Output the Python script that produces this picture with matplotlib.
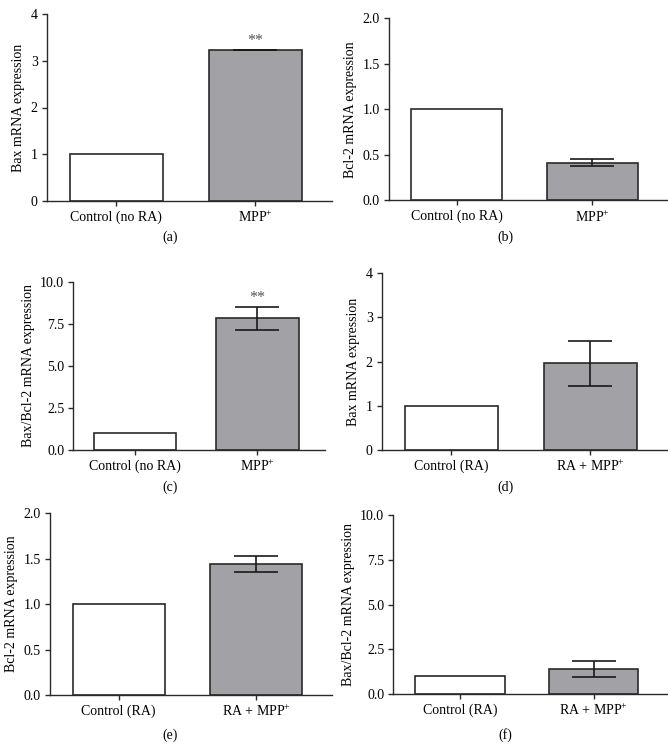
import matplotlib
matplotlib.use("Agg")
import matplotlib.pyplot as plt

plt.rcParams['font.family'] = ['Liberation Serif', 'DejaVu Serif']
plt.rcParams['mathtext.fontset'] = 'custom'
plt.rcParams['mathtext.rm'] = 'Liberation Serif'
plt.rcParams['mathtext.it'] = 'Liberation Serif:italic'

# ---- data ----
cats_noRA = ["Control (no RA)", "MPP$^{+}$"]
cats_RA = ["Control (RA)", "RA + MPP$^{+}$"]

bax_noRA = [1.0, 3.23]
bax_noRA_err = [0.0, 0.01]

bcl2_noRA = [1.0, 0.415]
bcl2_noRA_err = [0.0, 0.035]

ratio_noRA = [1.0, 7.82]
ratio_noRA_err = [0.0, 0.69]

bax_RA = [1.0, 1.96]
bax_RA_err = [0.0, 0.51]

bcl2_RA = [1.0, 1.44]
bcl2_RA_err = [0.0, 0.085]

ratio_RA = [1.0, 1.39]
ratio_RA_err = [0.0, 0.44]

panels = [
    dict(cats=cats_noRA, vals=bax_noRA, err=bax_noRA_err, ylabel="Bax mRNA expression",
         ylim=4, yticks=[0, 1, 2, 3, 4], fmt="{:.0f}", stars="**", label="(a)",
         rect=[46.7, 14, 331.7, 201], lab=(170, 237)),
    dict(cats=cats_noRA, vals=bcl2_noRA, err=bcl2_noRA_err, ylabel="Bcl-2 mRNA expression",
         ylim=2.0, yticks=[0, 0.5, 1.0, 1.5, 2.0], fmt="{:.1f}", stars=None, label="(b)",
         rect=[389, 18.3, 667, 200.3], lab=(505, 237)),
    dict(cats=cats_noRA, vals=ratio_noRA, err=ratio_noRA_err, ylabel="Bax/Bcl-2 mRNA expression",
         ylim=10.0, yticks=[0, 2.5, 5.0, 7.5, 10.0], fmt="{:.1f}", stars="**", label="(c)",
         rect=[73.3, 281.7, 325, 450], lab=(170, 487)),
    dict(cats=cats_RA, vals=bax_RA, err=bax_RA_err, ylabel="Bax mRNA expression",
         ylim=4, yticks=[0, 1, 2, 3, 4], fmt="{:.0f}", stars=None, label="(d)",
         rect=[381.7, 273.3, 667, 450], lab=(505, 487)),
    dict(cats=cats_RA, vals=bcl2_RA, err=bcl2_RA_err, ylabel="Bcl-2 mRNA expression",
         ylim=2.0, yticks=[0, 0.5, 1.0, 1.5, 2.0], fmt="{:.1f}", stars=None, label="(e)",
         rect=[50, 513.3, 331.7, 695], lab=(170, 735)),
    dict(cats=cats_RA, vals=ratio_RA, err=ratio_RA_err, ylabel="Bax/Bcl-2 mRNA expression",
         ylim=10.0, yticks=[0, 2.5, 5.0, 7.5, 10.0], fmt="{:.1f}", stars=None, label="(f)",
         rect=[393.3, 515, 667, 694], lab=(505, 735)),
]

W, H = 668, 749
fig = plt.figure(figsize=(W / 100, H / 100), dpi=100)

edge = "#2a2a2a"
fs = 10

for p in panels:
    l, t, r, b = p["rect"]
    ax = fig.add_axes([l / W, (H - b) / H, (r - l) / W, (b - t) / H])
    x = list(range(len(p["cats"])))
    ax.bar(x, p["vals"], width=0.67, color=["white", "#a2a1a6"], edgecolor=edge,
           linewidth=1.2, zorder=2)
    ax.errorbar(x[1:], p["vals"][1:], yerr=p["err"][1:], fmt="none", ecolor="#1a1a1a",
                elinewidth=1.2, capsize=16, capthick=1.2, zorder=3)
    if p["stars"]:
        ytop = p["vals"][1] + p["err"][1]
        ax.text(x[1], ytop + p["ylim"] * 0.005, p["stars"], ha="center", va="bottom",
                fontsize=11.5, color="#555555")
    ax.set_xlim(-0.5, 1.55)
    ax.set_ylim(0, p["ylim"])
    ax.set_yticks(p["yticks"])
    ax.set_yticklabels([p["fmt"].format(v) for v in p["yticks"]])
    ax.set_xticks(x)
    ax.set_xticklabels(p["cats"])
    ax.set_ylabel(p["ylabel"], fontsize=fs, labelpad=4)
    ax.tick_params(axis="both", labelsize=fs, direction="out", length=3.5, width=1.0,
                   color=edge, pad=3)
    for s in ["top", "right"]:
        ax.spines[s].set_visible(False)
    for s in ["left", "bottom"]:
        ax.spines[s].set_color(edge)
        ax.spines[s].set_linewidth(1.0)
    fig.text(p["lab"][0] / W, 1 - p["lab"][1] / H, p["label"], ha="center", va="center",
             fontsize=fs)

fig.savefig("out.png", dpi=100, facecolor="white")
